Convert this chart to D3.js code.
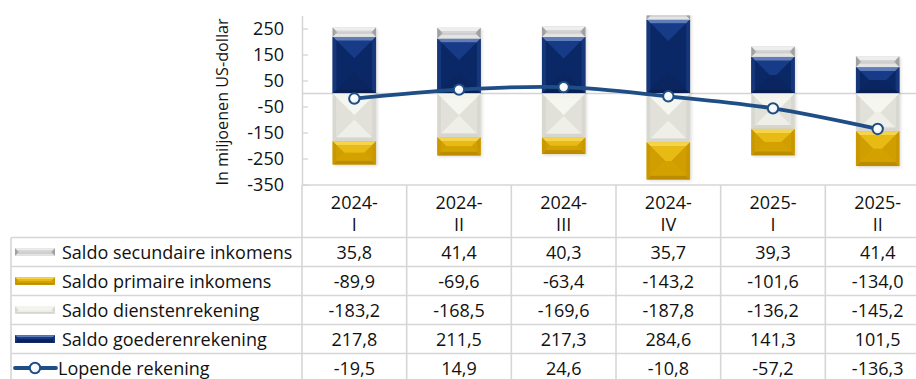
<!DOCTYPE html>
<html>
<head>
<meta charset="utf-8">
<script src="https://cdn.jsdelivr.net/npm/d3@7"></script>
<style>
  html, body { margin: 0; padding: 0; background: #fff; overflow: hidden; }
  svg { display: block; font-family: "Open Sans", "Noto Sans", sans-serif; }
</style>
</head>
<body>
<svg id="chart" width="916" height="379"></svg>
<script>
// Quarterly balance of payments components (millions of US dollars)
const categories = ["2024-I", "2024-II", "2024-III", "2024-IV", "2025-I", "2025-II"];
const goederen   = [217.8, 211.5, 217.3, 284.6, 141.3, 101.5];
const diensten   = [-183.2, -168.5, -169.6, -187.8, -136.2, -145.2];
const primaire   = [-89.9, -69.6, -63.4, -143.2, -101.6, -134.0];
const secundaire = [35.8, 41.4, 40.3, 35.7, 39.3, 41.4];
const lopende    = [-19.5, 14.9, 24.6, -10.8, -57.2, -136.3];
const yTicks     = [-350, -250, -150, -50, 50, 150, 250];
const yDomain    = [-350, 300];
const yTitle     = "In miljoenen US-dollar";

const fmt = v => d3.format(".1f")(v).replace(".", ",").replace("\u2212", "-");

// Bar series in stacking order, with bevel palettes
const series = [
  { name: "Saldo goederenrekening", values: goederen,
    pal: { base: "#0c2b6c", top: "#183b87", bottom: "#0a2560", side: "#0b2866", band: "#5f7db8", bandSide: "#16367a", bandBottom: "#081f54" } },
  { name: "Saldo dienstenrekening", values: diensten,
    pal: { base: "#ebebe4", top: "#f6f6f1", bottom: "#efefe9", side: "#e1e1d9", band: "#f4f4ef", bandSide: "#d8d8d0", bandBottom: "#d6d6ce" } },
  { name: "Saldo primaire inkomens", values: primaire,
    pal: { base: "#dcab00", top: "#e8bb14", bottom: "#d4a200", side: "#d09e00", band: "#f5d44c", bandSide: "#c99700", bandBottom: "#bc8c00" } },
  { name: "Saldo secundaire inkomens", values: secundaire,
    pal: { base: "#c9c9c9", top: "#d6d6d6", bottom: "#cfcfcf", side: "#ababab", band: "#eeeeee", bandSide: "#a0a0a0", bandBottom: "#e4e4e4" } }
];
const lineSeries = { name: "Lopende rekening", values: lopende, color: "#1f4e86" };

const svg = d3.select("#chart");

const plot = { left: 302, right: 930, top: 15.5, bottom: 184.5 };
const x = d3.scaleBand().domain(categories).range([plot.left, plot.right]).padding(0);
const y = d3.scaleLinear().domain(yDomain).range([plot.bottom, plot.top]);
const barW = x.bandwidth() * 0.415;

// Stack positives upward and negatives downward
const stacked = [];
categories.forEach((c, i) => {
  let pos = 0, neg = 0;
  series.forEach(s => {
    const v = s.values[i];
    let y0, y1;
    if (v >= 0) { y0 = pos; y1 = pos + v; pos = y1; }
    else { y0 = neg; y1 = neg + v; neg = y1; }
    stacked.push({ cat: c, s, lo: Math.min(y0, y1), hi: Math.max(y0, y1) });
  });
});

// Bevelled rectangle: outer band plus hip-roof shaded face
function bevelRect(g, x0, y0, w, h, pal, bandSize) {
  if (h <= 0 || w <= 0) return;
  const b = Math.min(bandSize, h / 3, w / 3);
  const poly = (pts, fill) => g.append("polygon")
    .attr("points", pts.map(p => p.join(",")).join(" ")).attr("fill", fill);
  g.append("rect").attr("x", x0).attr("y", y0).attr("width", w).attr("height", h).attr("fill", pal.base);
  // outer band
  poly([[x0, y0], [x0 + w, y0], [x0 + w - b, y0 + b], [x0 + b, y0 + b]], pal.band);
  poly([[x0, y0 + h], [x0 + w, y0 + h], [x0 + w - b, y0 + h - b], [x0 + b, y0 + h - b]], pal.bandBottom);
  poly([[x0, y0], [x0 + b, y0 + b], [x0 + b, y0 + h - b], [x0, y0 + h]], pal.bandSide);
  poly([[x0 + w, y0], [x0 + w - b, y0 + b], [x0 + w - b, y0 + h - b], [x0 + w, y0 + h]], pal.bandSide);
  // inner hip-roof faces
  const ix = x0 + b, iy = y0 + b, iw = w - 2 * b, ih = h - 2 * b;
  if (iw <= 0 || ih <= 0) return;
  const d = Math.min(iw, ih) / 2;
  const tall = ih >= iw;
  const r1 = tall ? [ix + iw / 2, iy + d] : [ix + d, iy + ih / 2];
  const r2 = tall ? [ix + iw / 2, iy + ih - d] : [ix + iw - d, iy + ih / 2];
  poly([[ix, iy], [ix + iw, iy], tall ? r1 : r2, r1], pal.top);
  poly([[ix, iy + ih], [ix + iw, iy + ih], r2, tall ? r2 : r1], pal.bottom);
  poly([[ix, iy], r1, tall ? r2 : r1, [ix, iy + ih]], pal.side);
  poly([[ix + iw, iy], tall ? r1 : r2, r2, [ix + iw, iy + ih]], pal.side);
}

// Clip to plot area
const defs = svg.append("defs");
defs.append("clipPath").attr("id", "plotClip").append("rect")
  .attr("x", plot.left).attr("y", plot.top).attr("width", plot.right - plot.left).attr("height", plot.bottom - plot.top);
const blur = defs.append("filter").attr("id", "shadow").attr("x", "-20%").attr("y", "-20%").attr("width", "140%").attr("height", "140%");
blur.append("feGaussianBlur").attr("stdDeviation", 1.6);
const mg = defs.append("radialGradient").attr("id", "markerFill").attr("cx", "40%").attr("cy", "35%").attr("r", "70%");
mg.append("stop").attr("offset", "0%").attr("stop-color", "#ffffff");
mg.append("stop").attr("offset", "70%").attr("stop-color", "#f2f6fb");
mg.append("stop").attr("offset", "100%").attr("stop-color", "#c9d6e6");

// Y axis
const yAxis = d3.axisLeft(y).tickValues(yTicks).tickSizeInner(-6).tickSizeOuter(0).tickPadding(18).tickFormat(d => d);
const ya = svg.append("g").attr("transform", `translate(${plot.left},0)`).call(yAxis);
ya.select(".domain").attr("stroke", "#d4d4d4").attr("stroke-width", 1.5);
ya.selectAll(".tick line").attr("stroke", "#d4d4d4").attr("stroke-width", 1.3);
ya.selectAll(".tick text").attr("font-size", 18).attr("fill", "#111").attr("font-family", "Open Sans");

svg.append("text")
  .attr("transform", `translate(222,${(plot.top + plot.bottom) / 2 + 2}) rotate(-90)`)
  .attr("text-anchor", "middle").attr("dominant-baseline", "central")
  .attr("font-size", 16.2).attr("fill", "#111").text(yTitle);

const pg = svg.append("g").attr("clip-path", "url(#plotClip)");

// Zero line
pg.append("line").attr("x1", plot.left).attr("x2", plot.right).attr("y1", y(0)).attr("y2", y(0))
  .attr("stroke", "#d4d4d4").attr("stroke-width", 1.6);

// Bar shadows
pg.append("g").selectAll("rect").data(stacked).join("rect")
  .attr("x", d => x(d.cat) + (x.bandwidth() - barW) / 2 + 1.5)
  .attr("y", d => y(d.hi) + 1.5)
  .attr("width", barW).attr("height", d => y(d.lo) - y(d.hi))
  .attr("fill", "#000").attr("opacity", 0.13).attr("filter", "url(#shadow)");

// Bars
const barsG = pg.append("g");
stacked.forEach(d => {
  const x0 = x(d.cat) + (x.bandwidth() - barW) / 2;
  bevelRect(barsG.append("g"), x0, y(d.hi), barW, y(d.lo) - y(d.hi), d.s.pal, 4);
});

// Smoothed current account line
const cx = c => x(c) + x.bandwidth() / 2;
const line = d3.line().x((d, i) => cx(categories[i])).y(d => y(d)).curve(d3.curveCardinal.tension(0));
pg.append("path").datum(lineSeries.values).attr("d", line)
  .attr("fill", "none").attr("stroke", lineSeries.color).attr("stroke-width", 3.8).attr("stroke-linecap", "round");
pg.append("g").selectAll("circle").data(lineSeries.values).join("circle")
  .attr("cx", (d, i) => cx(categories[i])).attr("cy", d => y(d)).attr("r", 5.2)
  .attr("fill", "url(#markerFill)").attr("stroke", lineSeries.color).attr("stroke-width", 2);

// Data table
const tableLeft = 11;
const headerTop = 185;
const rowTops = [237.5, 266.5, 295.5, 324.5, 353.5, 382.5];
const gridColor = "#d6d6d6";
const tg = svg.append("g");

// Horizontal rules
tg.append("line").attr("x1", plot.left).attr("x2", plot.right).attr("y1", headerTop).attr("y2", headerTop)
  .attr("stroke", gridColor).attr("stroke-width", 1.6);
rowTops.forEach(t => tg.append("line").attr("x1", tableLeft).attr("x2", plot.right).attr("y1", t).attr("y2", t)
  .attr("stroke", gridColor).attr("stroke-width", 1.6));
// Vertical rules
tg.append("line").attr("x1", tableLeft).attr("x2", tableLeft).attr("y1", rowTops[0]).attr("y2", 379)
  .attr("stroke", gridColor).attr("stroke-width", 1.6);
categories.concat([null]).forEach(c => {
  const xv = c ? x(c) : plot.right;
  tg.append("line").attr("x1", xv).attr("x2", xv).attr("y1", headerTop).attr("y2", 379)
    .attr("stroke", gridColor).attr("stroke-width", 1.6);
});

// Header labels (two lines)
categories.forEach(c => {
  const parts = c.split("-");
  const t = tg.append("text").attr("text-anchor", "middle").attr("font-size", 18).attr("fill", "#111");
  t.append("tspan").attr("x", cx(c)).attr("y", 201.5).attr("dominant-baseline", "central").text(parts[0] + "-");
  t.append("tspan").attr("x", cx(c)).attr("y", 223.5).attr("dominant-baseline", "central").text(parts[1]);
});

// Table rows: bar series in reverse order, then the line
const rows = series.slice().reverse().map(s => ({ type: "bar", s }))
  .concat([{ type: "line", s: lineSeries }]);
rows.forEach((r, ri) => {
  const mid = (rowTops[ri] + rowTops[ri + 1]) / 2;
  const g = tg.append("g");
  if (r.type === "bar") {
    bevelRect(g, 15, mid - 3.8, 40, 7.6, r.s.pal, 2);
    g.append("text").attr("x", 62).attr("y", mid).attr("dominant-baseline", "central")
      .attr("font-size", 18).attr("fill", "#111").text(r.s.name);
  } else {
    g.append("line").attr("x1", 15).attr("x2", 56).attr("y1", mid).attr("y2", mid)
      .attr("stroke", r.s.color).attr("stroke-width", 3.8).attr("stroke-linecap", "round");
    g.append("circle").attr("cx", 35).attr("cy", mid).attr("r", 5.2)
      .attr("fill", "url(#markerFill)").attr("stroke", r.s.color).attr("stroke-width", 2);
    g.append("text").attr("x", 58).attr("y", mid).attr("dominant-baseline", "central")
      .attr("font-size", 18).attr("fill", "#111").text(r.s.name);
  }
  r.s.values.forEach((v, i) => {
    g.append("text").attr("x", cx(categories[i])).attr("y", mid).attr("text-anchor", "middle")
      .attr("dominant-baseline", "central").attr("font-size", 18).attr("fill", "#111").text(fmt(v));
  });
});
</script>
</body>
</html>
